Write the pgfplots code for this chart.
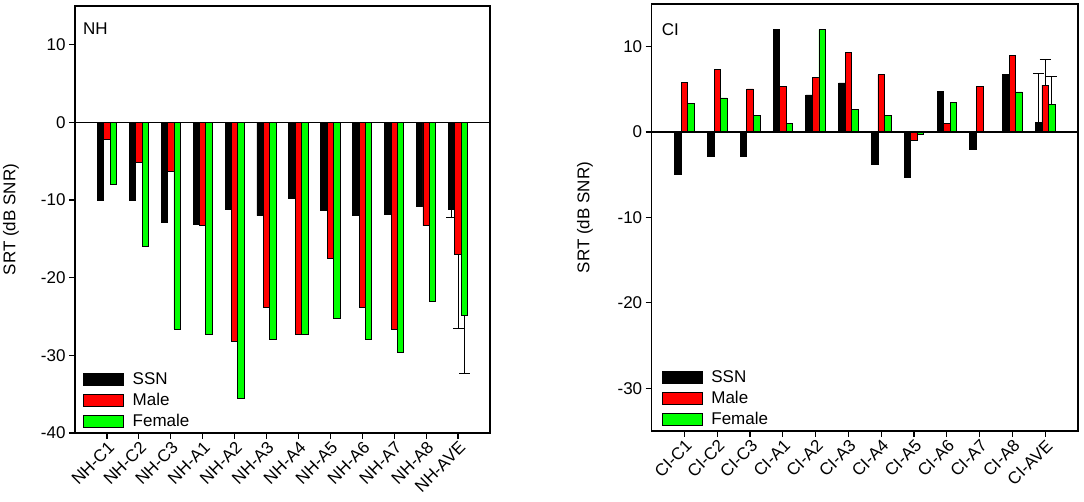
\documentclass[border=0pt]{standalone}
\usepackage{pgfplots}
\pgfplotsset{compat=1.18}
\usepackage{pgfplotstable}
\usepackage{fontspec}
\setmainfont{Liberation Sans}
\newcommand\f{\fontsize{17}{20}\selectfont}
\definecolor{bred}{RGB}{255,0,0}
\definecolor{bgreen}{RGB}{0,255,0}

\pgfplotstableread{
x ssn male female
0 -10.0 -2.2 -8.0
1 -10.0 -5.2 -16.0
2 -12.85 -6.3 -26.6
3 -13.1 -13.2 -27.3
4 -11.25 -28.2 -35.6
5 -12.0 -23.8 -28.0
6 -9.75 -27.3 -27.35
7 -11.35 -17.5 -25.3
8 -12.0 -23.8 -28.0
9 -11.9 -26.65 -29.6
10 -10.75 -13.3 -23.0
11 -11.25 -17.0 -24.9
}\nhdata

\pgfplotstableread{
x ssn male female
0 -4.9 5.85 3.4
1 -2.8 7.3 4.0
2 -2.8 5.05 2.0
3 12.0 5.3 1.0
4 4.35 6.4 12.0
5 5.75 9.35 2.7
6 -3.75 6.7 2.0
7 -5.35 -1.0 -0.3
8 4.8 1.0 3.5
9 -2.05 5.3 0.0
10 6.8 9.0 4.7
11 1.15 5.5 3.2
}\cidata

\pgfplotsset{
  panel/.style={
    scale only axis,
    xmin=-1, xmax=12,
    xtick={0,...,11},
    tick pos=left,
    tick align=outside,
    major tick length=6pt,
    every tick/.style={black, line width=1.2pt},
    axis line style={line width=1.4pt},
    font=\f,
    xticklabel style={rotate=45, anchor=north east, inner sep=1pt, font=\f},
    yticklabel style={font=\f},
    ylabel={SRT (dB SNR)},
    legend cell align=left,
    legend style={draw=none, fill=none, inner sep=0pt, font=\f,
      row sep=4pt, nodes={inner sep=1pt, text height=12pt, text depth=3pt}},
  },
  barimg/.style={legend image code/.code={\draw[##1,draw=black,line width=0.9pt] (0pt,-6pt) rectangle (40pt,6pt); \path[draw=none,fill=none] (0pt,0pt) -- (48pt,0pt);}},
  sbar/.style={ybar, bar width=0.2, bar shift=-0.2, fill=black, draw=black, line width=0.8pt, barimg},
  mbar/.style={ybar, bar width=0.2, bar shift=0, fill=bred, draw=black, line width=0.8pt, barimg},
  fbar/.style={ybar, bar width=0.2, bar shift=0.2, fill=bgreen, draw=black, line width=0.8pt, barimg},
  ebar/.style={bar shift=0, error bars/.cd, y explicit, y dir=#1,
    error bar style={black, line width=1pt},
    error mark options={black, line width=1pt, rotate=90, mark size=5.5pt}},
}

\begin{document}
\begin{tikzpicture}
\path[use as bounding box] (0pt,0pt) rectangle (1084pt,502pt);

\begin{axis}[panel,
  at={(75pt,69pt)}, anchor=south west,
  width=415pt, height=427pt,
  ymin=-40, ymax=15,
  ytick={-40,-30,-20,-10,0,10},
  yticklabels={-40,-30,-20,-10,0,10},
  xticklabels={NH-C1,NH-C2,NH-C3,NH-A1,NH-A2,NH-A3,NH-A4,NH-A5,NH-A6,NH-A7,NH-A8,NH-AVE},
  ylabel style={at={(axis description cs:-0.154,0.5)}, anchor=center},
  legend style={at={(axis description cs:0.0193,0.006)}, anchor=south west},
]
\addplot[sbar] table[x=x,y=ssn] {\nhdata};
\addplot[mbar] table[x=x,y=male] {\nhdata};
\addplot[fbar] table[x=x,y=female] {\nhdata};
\addplot[sbar, forget plot, ebar=minus] coordinates {(10.8,-11.25) +- (0,1.05)};
\addplot[mbar, forget plot, ebar=minus] coordinates {(11,-17.0) +- (0,9.6)};
\addplot[fbar, forget plot, ebar=minus] coordinates {(11.2,-24.9) +- (0,7.4)};
\draw[black, line width=1.2pt] (axis cs:-1,0) -- (axis cs:12,0);
\node[anchor=north west, inner sep=0pt, font=\f] at (axis description cs:0.0193,0.96) {NH};
\legend{SSN,Male,Female}
\end{axis}

\begin{axis}[panel,
  at={(651.7pt,71pt)}, anchor=south west,
  width=426.3pt, height=427pt,
  ymin=-35, ymax=15,
  ytick={-30,-20,-10,0,10},
  yticklabels={-30,-20,-10,0,10},
  xticklabels={CI-C1,CI-C2,CI-C3,CI-A1,CI-A2,CI-A3,CI-A4,CI-A5,CI-A6,CI-A7,CI-A8,CI-AVE},
  ylabel style={at={(axis description cs:-0.1565,0.5)}, anchor=center},
  legend style={at={(axis description cs:0.0235,0.006)}, anchor=south west},
]
\addplot[sbar] table[x=x,y=ssn] {\cidata};
\addplot[mbar] table[x=x,y=male] {\cidata};
\addplot[fbar] table[x=x,y=female] {\cidata};
\addplot[sbar, forget plot, ebar=plus] coordinates {(10.8,1.15) +- (0,5.75)};
\addplot[mbar, forget plot, ebar=plus] coordinates {(11,5.5) +- (0,3.05)};
\addplot[fbar, forget plot, ebar=plus] coordinates {(11.2,3.2) +- (0,3.35)};
\draw[black, line width=1.2pt] (axis cs:-1,0) -- (axis cs:12,0);
\node[anchor=north west, inner sep=0pt, font=\f] at (axis description cs:0.0235,0.9555) {CI};
\legend{SSN,Male,Female}
\end{axis}
\end{tikzpicture}
\end{document}
